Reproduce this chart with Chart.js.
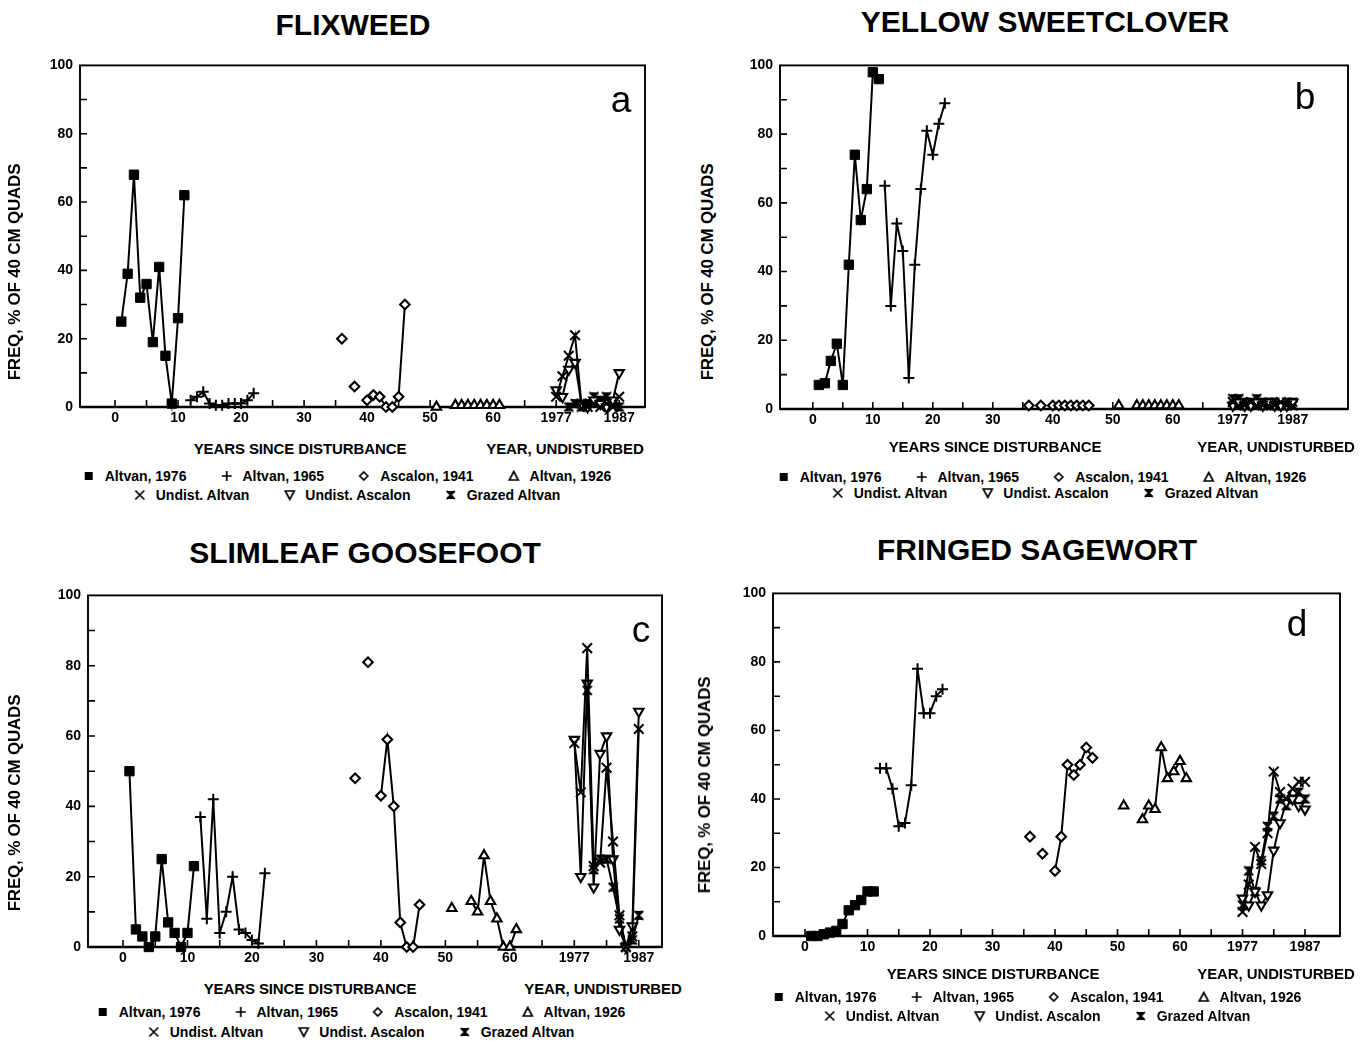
<!DOCTYPE html>
<html><head><meta charset="utf-8">
<script src="https://cdn.jsdelivr.net/npm/chart.js@4.4.1/dist/chart.umd.min.js"></script>
<style>
html,body{margin:0;padding:0;background:#fff}
body{width:1369px;height:1044px;position:relative;overflow:hidden;font-family:"Liberation Sans",Arial,sans-serif;color:#000}
.t{position:absolute;white-space:nowrap;transform:translate(-50%,-50%)}
.title{font-weight:bold;font-size:30px}
.letter{font-size:37px}
.cap{font-weight:bold;font-size:15px;letter-spacing:-0.1px}
.ytitle{font-weight:bold;font-size:17px;letter-spacing:-0.2px;transform:translate(-50%,-50%) rotate(-90deg)}
.leg{font-weight:bold;font-size:14px;display:flex;align-items:center}
.leg span{display:inline-flex;align-items:center;margin:0 17px}
.leg canvas{margin-right:10px}
canvas.chart{position:absolute}
</style>
</head><body>
<script>
// ---------- axis ticks ----------
const xTickValues = [0, 10, 20, 30, 40, 50, 60, 70, 80];
const xTickLabels = ['0', '10', '20', '30', '40', '50', '60', '1977', '1987'];
const yTickValues = [0, 20, 40, 60, 80, 100];
const UNDIST_FIRST_YEAR = 1977;   // shown at axis position 70
const UNDIST_AXIS_POS = 70;

// ---------- x values (years since disturbance / calendar year) ----------
const yrsAltvan1976 = [1, 2, 3, 4, 5, 6, 7, 8, 9, 10, 11];
const yrsAltvan1965 = [12, 13, 14, 15, 16, 17, 18, 19, 20, 21, 22];
const yrsAscalon1941 = [36, 37, 38, 39, 40, 41, 42, 43, 44, 45, 46];
const yrsAltvan1926 = [51, 52, 53, 54, 55, 56, 57, 58, 59, 60, 61];
const yrsUndisturbed = [1977, 1978, 1979, 1980, 1981, 1982, 1983, 1984, 1985, 1986, 1987];

// ---------- a: FLIXWEED ----------
const aAltvan1976 = [25, 39, 68, 32, 36, 19, 41, 15, 1, 26, 62];
const aAltvan1965 = [2, 3, 4.5, 1, 0.5, 0.5, 1, 1, 1, 2, 4];
const aAscalon1941 = [20, null, 6, null, 2, 3.5, 3, 0, 0, 3, 30];
const aAltvan1926 = [0, null, null, 0.5, 0.5, 0.5, 0.5, 0.5, 0.5, 0.5, 0.5];
const aUndistAltvan = [3, 9, 15, 21, 1, 0, 1, 0, 1, 0, 3];
const aUndistAscalon = [5, 3, 11, 13, 1, 0, 2, 1, 0, 2, 10];
const aGrazedAltvan = [null, null, 0, 1, 0, 1, 3, 2, 3, 1, 0];

// ---------- b: YELLOW SWEETCLOVER ----------
const bAltvan1976 = [7, 7.5, 14, 19, 7, 42, 74, 55, 64, 98, 96];
const bAltvan1965 = [65, 30, 54, 46, 9, 42, 64, 81, 74, 83, 89];
const bAscalon1941 = [1, null, 1, null, 1, 1, 1, 1, 1, 1, 1];
const bAltvan1926 = [1, null, null, 1, 1, 1, 1, 1, 1, 1, 1];
const bUndistAltvan = [2, 1, 1, 2, 1, 1, 1, 1, 2, 1, 1];
const bUndistAscalon = [1, 2, 1, 1, 2, 1, 2, 1, 1, 1, 2];
const bGrazedAltvan = [3, 3, 2, 2, 3, 2, 2, 2, 1, 2, 2];

// ---------- c: SLIMLEAF GOOSEFOOT ----------
const cAltvan1976 = [50, 5, 3, 0, 3, 25, 7, 4, 0, 4, 23];
const cAltvan1965 = [37, 8, 42, 4, 10, 20, 5, 4, 2, 1, 21];
const cAscalon1941 = [48, null, 81, null, 43, 59, 40, 7, 0, 0, 12];
const cAltvan1926 = [11, null, null, 13, 10, 26, 13, 8, 0, 0, 5];
const cUndistAltvan = [58, 44, 85, 23, 24, 51, 30, 9, 0, 3, 62];
const cUndistAscalon = [59, 20, 75, 17, 55, 60, 25, 5, 0, 6, 67];
const cGrazedAltvan = [null, null, 73, 22, 25, 25, 17, 8, 0, 2, 9];

// ---------- d: FRINGED SAGEWORT ----------
const dAltvan1976 = [0, 0, 0.5, 1, 1.5, 3.5, 7.5, 9, 10.5, 13, 13];
const dAltvan1965 = [49, 49, 43, 32, 33, 44, 78, 65, 65, 70, 72];
const dAscalon1941 = [29, null, 24, null, 19, 29, 50, 47, 50, 55, 52];
const dAltvan1926 = [38, null, null, 34, 38, 37, 55, 46, 48, 51, 46];
const dUndistAltvan = [7, 15, 26, 21, 30, 48, 42, 40, 43, 45, 45];
const dUndistAscalon = [11, 9, 13, 9, 12, 25, 33, 39, 40, 38, 37];
const dGrazedAltvan = [9, 19, 13, 22, 32, 35, 40, 38, 40, 42, 40];

const seriesNames = ['Altvan, 1976', 'Altvan, 1965', 'Ascalon, 1941', 'Altvan, 1926', 'Undist. Altvan', 'Undist. Ascalon', 'Grazed Altvan'];

// ---------- marker styles ----------
function hourglass(size) {
  const c = document.createElement('canvas');
  c.width = size; c.height = size;
  const g = c.getContext('2d');
  g.fillStyle = '#000'; g.strokeStyle = '#000'; g.lineWidth = 1.8;
  g.beginPath(); g.moveTo(1, 1); g.lineTo(size - 1, 1); g.lineTo(size / 2, size / 2); g.closePath(); g.fill();
  g.beginPath(); g.moveTo(1, size - 1); g.lineTo(size - 1, size - 1); g.lineTo(size / 2, size / 2); g.closePath(); g.fill();
  g.beginPath(); g.moveTo(1, 1); g.lineTo(size - 1, size - 1); g.moveTo(size - 1, 1); g.lineTo(1, size - 1); g.stroke();
  return c;
}
const HG = hourglass(11);
const STYLES = [
  {pointStyle: 'rect', radius: 6.6, bg: '#000', bw: 1},
  {pointStyle: 'cross', radius: 5.5, bg: '#000', bw: 2},
  {pointStyle: 'rectRot', radius: 4.8, bg: '#fff', bw: 2.1},
  {pointStyle: 'triangle', radius: 5.4, bg: '#fff', bw: 2.1},
  {pointStyle: 'crossRot', radius: 6.8, bg: '#000', bw: 2},
  {pointStyle: 'triangle', radius: 5.4, bg: '#fff', bw: 2.1, rot: 180},
  {pointStyle: HG, radius: 5.5, bg: '#000', bw: 1}
];

function pts(xs, ys, undist) {
  return xs.map((x, i) => ({x: undist ? UNDIST_AXIS_POS + (x - UNDIST_FIRST_YEAR) : x, y: ys[i]}));
}

const framePlugin = {
  id: 'frame',
  beforeDatasetsDraw(chart) {
    const {ctx, chartArea: a, scales: {x, y}} = chart;
    ctx.save();
    ctx.strokeStyle = '#000';
    ctx.lineWidth = 1.9;
    ctx.strokeRect(a.left, a.top, a.right - a.left, a.bottom - a.top);
    ctx.lineWidth = 2.4;
    ctx.beginPath(); ctx.moveTo(a.left, a.bottom); ctx.lineTo(a.right, a.bottom); ctx.stroke();
    ctx.lineWidth = 1.6;
    ctx.beginPath();
    for (let v = 0; v <= 80; v += 5) {
      const px = x.getPixelForValue(v);
      ctx.moveTo(px, a.bottom); ctx.lineTo(px, a.bottom - 7);
    }
    for (let v = 10; v < 100; v += 10) {
      const py = y.getPixelForValue(v);
      ctx.moveTo(a.left, py); ctx.lineTo(a.left + 7, py);
    }
    ctx.stroke();
    ctx.restore();
  }
};

const TICKFONT = {family: '"Liberation Sans",Arial,sans-serif', size: 14, weight: 'bold'};

const PANELS = [
  {title: 'FLIXWEED', letter: 'a', data: [aAltvan1976, aAltvan1965, aAscalon1941, aAltvan1926, aUndistAltvan, aUndistAscalon, aGrazedAltvan],
   plot: {l: 80, t: 62, r: 645, b: 407}, xmin: -5.56, xmax: 84.1,
   titlePos: [353, 25], letterPos: [621, 100], yTitle: [15, 272],
   cap1: [300, 448], cap2: [565, 448], leg1: [347, 476], leg2: [347, 495]},
  {title: 'YELLOW SWEETCLOVER', letter: 'b', data: [bAltvan1976, bAltvan1965, bAscalon1941, bAltvan1926, bUndistAltvan, bUndistAscalon, bGrazedAltvan],
   plot: {l: 780, t: 62, r: 1348, b: 409}, xmin: -5.47, xmax: 89.2,
   titlePos: [1045, 22], letterPos: [1305, 97], yTitle: [708, 272],
   cap1: [995, 446], cap2: [1276, 446], leg1: [1042, 477], leg2: [1045, 493]},
  {title: 'SLIMLEAF GOOSEFOOT', letter: 'c', data: [cAltvan1976, cAltvan1965, cAscalon1941, cAltvan1926, cUndistAltvan, cUndistAscalon, cGrazedAltvan],
   plot: {l: 88, t: 592, r: 662, b: 947}, xmin: -5.43, xmax: 83.6,
   titlePos: [365, 553], letterPos: [641, 630], yTitle: [15, 803],
   cap1: [310, 988], cap2: [603, 988], leg1: [361, 1012], leg2: [361, 1032]},
  {title: 'FRINGED SAGEWORT', letter: 'd', data: [dAltvan1976, dAltvan1965, dAscalon1941, dAltvan1926, dUndistAltvan, dUndistAscalon, dGrazedAltvan],
   plot: {l: 773, t: 590, r: 1340, b: 936}, xmin: -5.12, xmax: 85.6,
   titlePos: [1037, 550], letterPos: [1297, 624], yTitle: [705, 785],
   cap1: [993, 973], cap2: [1276, 973], leg1: [1037, 997], leg2: [1037, 1016]}
];
const XS = [yrsAltvan1976, yrsAltvan1965, yrsAscalon1941, yrsAltvan1926, yrsUndisturbed, yrsUndisturbed, yrsUndisturbed];

function text(cls, str, pos) {
  const d = document.createElement('div');
  d.className = 't ' + cls;
  d.textContent = str;
  d.style.left = pos[0] + 'px'; d.style.top = pos[1] + 'px';
  document.body.appendChild(d);
  return d;
}

function icon(i) {
  const c = document.createElement('canvas');
  c.width = 12; c.height = 12;
  const g = c.getContext('2d');
  g.strokeStyle = '#000'; g.fillStyle = '#000'; g.lineWidth = 1.7;
  const m = 6;
  g.beginPath();
  if (i === 0) { g.fillRect(2, 2, 8, 8); }
  else if (i === 1) { g.moveTo(m, 1); g.lineTo(m, 11); g.moveTo(1, m); g.lineTo(11, m); g.stroke(); }
  else if (i === 2) { g.moveTo(m, 2); g.lineTo(10, m); g.lineTo(m, 10); g.lineTo(2, m); g.closePath(); g.stroke(); }
  else if (i === 3) { g.moveTo(m, 1.5); g.lineTo(10.5, 10); g.lineTo(1.5, 10); g.closePath(); g.stroke(); }
  else if (i === 4) { g.moveTo(1.5, 1.5); g.lineTo(10.5, 10.5); g.moveTo(10.5, 1.5); g.lineTo(1.5, 10.5); g.stroke(); }
  else if (i === 5) { g.moveTo(1.5, 2); g.lineTo(10.5, 2); g.lineTo(m, 10.5); g.closePath(); g.stroke(); }
  else { g.drawImage(hourglass(10), 1, 1); }
  return c;
}

function legendRow(items, pos) {
  const d = document.createElement('div');
  d.className = 't leg';
  d.style.left = pos[0] + 'px'; d.style.top = pos[1] + 'px';
  items.forEach(i => {
    const s = document.createElement('span');
    s.appendChild(icon(i));
    s.appendChild(document.createTextNode(seriesNames[i]));
    d.appendChild(s);
  });
  document.body.appendChild(d);
}

PANELS.forEach(p => {
  const YW = 60, XH = 30, PT = 12, PR = 12;
  const W = p.plot.r - p.plot.l + YW + PR;
  const H = p.plot.b - p.plot.t + XH + PT;
  const cv = document.createElement('canvas');
  cv.className = 'chart';
  cv.width = W; cv.height = H;
  cv.style.width = W + 'px'; cv.style.height = H + 'px';
  cv.style.left = (p.plot.l - YW) + 'px'; cv.style.top = (p.plot.t - PT) + 'px';
  document.body.appendChild(cv);

  const datasets = p.data.map((ys, i) => {
    const st = STYLES[i];
    return {
      label: seriesNames[i],
      data: pts(XS[i], ys, i >= 4),
      borderColor: '#000', borderWidth: 2, tension: 0, spanGaps: false, fill: false,
      pointStyle: st.pointStyle, pointRadius: st.radius, pointRotation: st.rot || 0,
      pointBackgroundColor: st.bg, pointBorderColor: '#000', pointBorderWidth: st.bw,
      clip: false
    };
  });

  new Chart(cv, {
    type: 'line',
    data: {datasets},
    options: {
      responsive: false, animation: false, devicePixelRatio: 1,
      layout: {padding: {top: PT, right: PR, left: 0, bottom: 0}},
      plugins: {legend: {display: false}, tooltip: {enabled: false}, title: {display: false}},
      scales: {
        x: {
          type: 'linear', min: p.xmin, max: p.xmax,
          afterBuildTicks: s => { s.ticks = xTickValues.map(v => ({value: v})); },
          afterFit: s => { s.height = XH; },
          ticks: {color: '#000', font: TICKFONT, padding: 3, maxRotation: 0, autoSkip: false,
                  callback: v => { const k = xTickValues.indexOf(v); return k >= 0 ? xTickLabels[k] : ''; }},
          grid: {display: false, drawTicks: false}, border: {display: false}
        },
        y: {
          type: 'linear', min: 0, max: 100,
          afterBuildTicks: s => { s.ticks = yTickValues.map(v => ({value: v})); },
          afterFit: s => { s.width = YW; },
          ticks: {color: '#000', font: TICKFONT, padding: 7},
          grid: {display: false, drawTicks: false}, border: {display: false}
        }
      }
    },
    plugins: [framePlugin]
  });

  text('title', p.title, p.titlePos);
  text('letter', p.letter, p.letterPos);
  text('ytitle', 'FREQ, % OF 40 CM QUADS', p.yTitle);
  text('cap', 'YEARS SINCE DISTURBANCE', p.cap1);
  text('cap', 'YEAR, UNDISTURBED', p.cap2);
  legendRow([0, 1, 2, 3], p.leg1);
  legendRow([4, 5, 6], p.leg2);
});
</script>
</body></html>
